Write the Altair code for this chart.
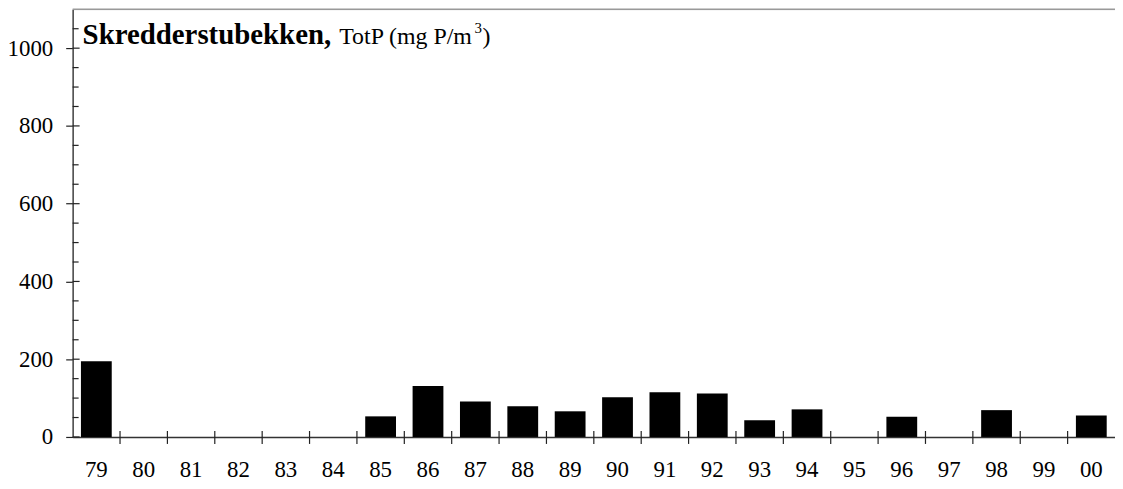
import altair as alt
import pandas as pd

years = ["79", "80", "81", "82", "83", "84", "85", "86", "87", "88", "89",
         "90", "91", "92", "93", "94", "95", "96", "97", "98", "99", "00"]
totp = [195, None, None, None, None, None, 53, 131, 91, 79, 66,
        102, 115, 112, 43, 71, None, 52, None, 69, None, 55]
y_major = [0, 200, 400, 600, 800, 1000]
y_minor = [50, 100, 150, 250, 300, 350, 450, 500, 550, 650, 700, 750,
           850, 900, 950, 1050]

W, H = 1048, 430
FONT = "Liberation Serif"

df = pd.DataFrame({"year": years, "value": totp})
bounds = pd.DataFrame({"year": years[1:]})
minor_df = pd.DataFrame({"v": y_minor})
major_df = pd.DataFrame({"v": y_major})

xs = alt.Scale(domain=years, paddingInner=0, paddingOuter=0)
ys = alt.Scale(domain=[0, 1100], nice=False)

bars = alt.Chart(df).mark_bar(color="black", width=alt.RelativeBandSize(0.65)).encode(
    x=alt.X("year:N", sort=years, scale=xs, title=None,
            axis=alt.Axis(ticks=False, labelAngle=0, labelPadding=22, domainColor="#333",
                          domainWidth=1.5)),
    y=alt.Y("value:Q", scale=ys, title=None,
            axis=alt.Axis(values=y_major, format="d", tickSize=7, tickColor="#222",
                          tickWidth=1.2, labelPadding=13, domainColor="#444",
                          domainWidth=1.5, grid=False)),
)

xticks = alt.Chart(bounds).mark_rule(color="#222", strokeWidth=1.2).encode(
    x=alt.X("year:N", sort=years, scale=xs, bandPosition=0),
    y=alt.value(H - 6), y2=alt.value(H + 7),
)

minor_ticks = alt.Chart(minor_df).mark_rule(color="#222", strokeWidth=1.2).encode(
    y=alt.Y("v:Q", scale=ys), x=alt.value(0), x2=alt.value(6),
)
major_ticks = alt.Chart(major_df).mark_rule(color="#222", strokeWidth=1.2).encode(
    y=alt.Y("v:Q", scale=ys), x=alt.value(0), x2=alt.value(7),
)

top_line = alt.Chart(pd.DataFrame({"a": [0]})).mark_rule(color="#999", strokeWidth=1.5).encode(
    y=alt.value(0), x=alt.value(0), x2=alt.value(W + 20),
)

tdf = pd.DataFrame({"a": [0]})
t_bold = alt.Chart(tdf).mark_text(font=FONT, fontSize=29, fontWeight="bold", align="left",
                                  baseline="alphabetic", color="black").encode(
    x=alt.value(10), y=alt.value(35), text=alt.value("Skredderstubekken,"))
t_norm = alt.Chart(tdf).mark_text(font=FONT, fontSize=24, align="left",
                                  baseline="alphabetic", color="black").encode(
    x=alt.value(268), y=alt.value(35), text=alt.value("TotP (mg P/m"))
t_sup = alt.Chart(tdf).mark_text(font=FONT, fontSize=15, align="left",
                                 baseline="alphabetic", color="black").encode(
    x=alt.value(404), y=alt.value(24), text=alt.value("3"))
t_par = alt.Chart(tdf).mark_text(font=FONT, fontSize=24, align="left",
                                 baseline="alphabetic", color="black").encode(
    x=alt.value(412), y=alt.value(35), text=alt.value(")"))

chart = alt.layer(bars, xticks, minor_ticks, major_ticks, top_line,
                  t_bold, t_norm, t_sup, t_par).properties(
    width=W, height=H,
    autosize=alt.AutoSizeParams(type="none"),
    padding={"left": 65, "top": 0, "right": 0, "bottom": 46},
).configure_view(stroke=None).configure(background="white").configure_axis(
    labelFont=FONT, labelFontSize=23, labelColor="black"
)

chart.save("out.html", embed_options={"renderer": "svg", "actions": False})
